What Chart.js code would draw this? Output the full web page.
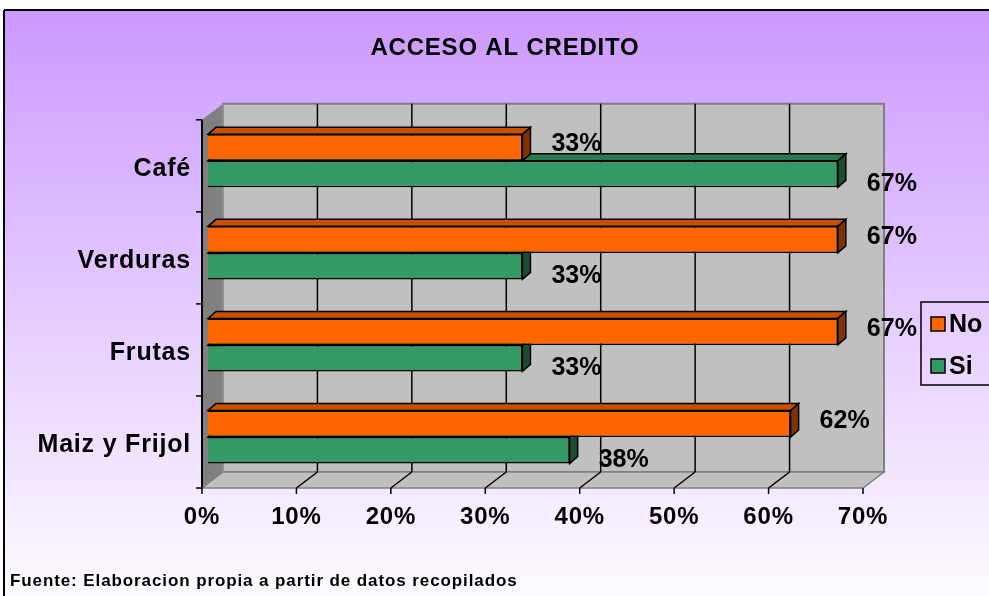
<!DOCTYPE html>
<html>
<head>
<meta charset="utf-8">
<script src="https://cdn.jsdelivr.net/npm/chart.js@4.4.1/dist/chart.umd.min.js"></script>
<style>
  html, body { margin: 0; padding: 0; background: #fff; }
  canvas { display: block; }
</style>
</head>
<body>
<canvas id="chart-credito" width="989" height="596"></canvas>
<script>
/* ===== Data ===== */
const categories = ['Café', 'Verduras', 'Frutas', 'Maiz y Frijol'];
const seriesNames = ['No', 'Si'];
const noValues = [33.3, 66.7, 66.7, 61.7];
const siValues = [66.7, 33.3, 33.3, 38.3];
const xTicks = [0, 10, 20, 30, 40, 50, 60, 70];
const chartTitle = 'ACCESO AL CREDITO';
const sourceNote = 'Fuente: Elaboracion propia a partir de datos recopilados';

/* ===== Styles ===== */
const FONT = '"Liberation Sans", Arial, sans-serif';
const SERIES_STYLE = [
  { front: '#ff6600', top: '#c85000', side: '#803300' },
  { front: '#339966', top: '#277a50', side: '#1b4d33' },
];
const WALL_DEPTH = { x: 21, y: -16 };   // front plane -> back wall
const BAR_SHIFT = { x: 6, y: -5 };      // front plane -> bar plane (chart area)
const BAR_DEPTH = { x: 8, y: -7 };

function poly(ctx, pts, fill, stroke, lw) {
  ctx.beginPath();
  pts.forEach((p, i) => i ? ctx.lineTo(p[0], p[1]) : ctx.moveTo(p[0], p[1]));
  ctx.closePath();
  if (fill) { ctx.fillStyle = fill; ctx.fill(); }
  if (stroke) { ctx.strokeStyle = stroke; ctx.lineWidth = lw || 1; ctx.stroke(); }
}

function line(ctx, x1, y1, x2, y2, color, lw) {
  ctx.beginPath();
  ctx.moveTo(x1, y1);
  ctx.lineTo(x2, y2);
  ctx.strokeStyle = color;
  ctx.lineWidth = lw;
  ctx.stroke();
}

// background gradient + frame
const framePlugin = {
  id: 'frame',
  beforeDraw(chart) {
    const { ctx, width, height } = chart;
    ctx.letterSpacing = '0.8px'; // Excel-like wide text, kept for all labels
    ctx.save();
    ctx.fillStyle = '#fff';
    ctx.fillRect(0, 0, width, height);
    const g = ctx.createLinearGradient(0, 10, 0, 620);
    g.addColorStop(0, '#cc99ff');
    g.addColorStop(1, '#ffffff');
    ctx.fillStyle = g;
    ctx.fillRect(4, 10, width, height);
    line(ctx, 4, 10, 4, height, '#000', 2);
    line(ctx, 4, 10, width, 10, '#000', 2);
    ctx.restore();
  }
};

// 3D walls, floor, gridlines and bar extrusions
const wallsPlugin = {
  id: 'walls',
  beforeDatasetsDraw(chart) {
    const { ctx, chartArea: ca } = chart;
    const xs = chart.scales.x;
    const fx = v => xs.getPixelForValue(v) - BAR_SHIFT.x;
    const fTop = ca.top - BAR_SHIFT.y;
    const fBot = ca.bottom - BAR_SHIFT.y;
    const dx = WALL_DEPTH.x, dy = WALL_DEPTH.y;
    const x0 = fx(xTicks[0]);
    const x1 = fx(xTicks[xTicks.length - 1]);

    ctx.save();
    // back wall
    poly(ctx, [[x0 + dx, fTop + dy], [x1 + dx, fTop + dy], [x1 + dx, fBot + dy], [x0 + dx, fBot + dy]], '#c0c0c0', '#808080', 2);
    // floor
    poly(ctx, [[x0, fBot], [x1, fBot], [x1 + dx, fBot + dy], [x0 + dx, fBot + dy]], '#c0c0c0', '#808080', 1.5);
    // left wall
    poly(ctx, [[x0, fTop], [x0 + dx, fTop + dy], [x0 + dx, fBot + dy], [x0, fBot]], '#808080', null);
    line(ctx, x0 + dx, fTop + dy, x0 + dx, fBot + dy, '#a0a0a0', 1);

    // gridlines on back wall and floor
    xTicks.slice(1, -1).forEach(t => {
      const x = fx(t);
      line(ctx, x + dx, fTop + dy, x + dx, fBot + dy, '#000', 1.5);
      line(ctx, x, fBot, x + dx, fBot + dy, '#000', 1.5);
    });
    // front axis lines and tick marks
    line(ctx, x0, fTop, x0, fBot, '#000', 2);
    xTicks.forEach(t => line(ctx, fx(t), fBot, fx(t), fBot + 6, '#000', 1.5));
    for (let i = 0; i <= categories.length; i++) {
      const y = fTop + (fBot - fTop) * i / categories.length;
      line(ctx, x0 - 6, y, x0, y, '#000', 1.5);
    }

    // bar extrusions: lower series first so the upper one overlaps it
    for (let di = chart.data.datasets.length - 1; di >= 0; di--) {
      const st = SERIES_STYLE[di];
      chart.getDatasetMeta(di).data.forEach(bar => {
        const { x, y, base, height } = bar.getProps(['x', 'y', 'base', 'height'], true);
        const top = y - height / 2, bottom = y + height / 2;
        const bx = BAR_DEPTH.x, by = BAR_DEPTH.y;
        poly(ctx, [[base, top], [x, top], [x + bx, top + by], [base + bx, top + by]], st.top, '#000', 1.5);
        poly(ctx, [[x, top], [x + bx, top + by], [x + bx, bottom + by], [x, bottom]], st.side, '#000', 1.5);
      });
    }
    ctx.restore();
  },
  afterDatasetsDraw(chart) {
    const { ctx } = chart;
    ctx.save();
    ctx.font = `bold 25px ${FONT}`;
    ctx.letterSpacing = '0px';
    ctx.fillStyle = '#000';
    ctx.textAlign = 'center';
    ctx.textBaseline = 'middle';
    chart.data.datasets.forEach((ds, di) => {
      chart.getDatasetMeta(di).data.forEach((bar, i) => {
        ctx.fillText(Math.round(ds.data[i]) + '%', bar.x + 54, bar.y + (di === 0 ? -3 : 10));
      });
    });
    ctx.restore();
  },
  afterDraw(chart) {
    const { ctx } = chart;
    ctx.save();
    // legend box
    ctx.strokeStyle = '#000';
    ctx.lineWidth = 1.5;
    ctx.strokeRect(921, 302, 90, 83);
    ctx.font = `bold 25px ${FONT}`;
    ctx.letterSpacing = '0px';
    ctx.textAlign = 'left';
    ctx.textBaseline = 'middle';
    seriesNames.forEach((name, i) => {
      const y = 324 + i * 42;
      ctx.fillStyle = SERIES_STYLE[i].front;
      ctx.fillRect(931, y - 7, 14, 14);
      ctx.strokeRect(931, y - 7, 14, 14);
      ctx.fillStyle = '#000';
      ctx.fillText(name, 949, y + 1);
    });
    // source note
    ctx.font = `bold 17px ${FONT}`;
    ctx.letterSpacing = '0.9px';
    ctx.fillText(sourceNote, 10, 581);
    ctx.restore();
  }
};

const ctx = document.getElementById('chart-credito').getContext('2d');
new Chart(ctx, {
  type: 'bar',
  data: {
    labels: categories,
    datasets: [
      { label: seriesNames[0], data: noValues, backgroundColor: SERIES_STYLE[0].front, borderColor: '#000', borderWidth: 1.5 },
      { label: seriesNames[1], data: siValues, backgroundColor: SERIES_STYLE[1].front, borderColor: '#000', borderWidth: 1.5 },
    ]
  },
  options: {
    indexAxis: 'y',
    responsive: false,
    animation: false,
    categoryPercentage: 0.576,
    barPercentage: 1,
    layout: { padding: { top: 10, left: 21, right: 0, bottom: 0 } },
    scales: {
      x: {
        min: xTicks[0], max: xTicks[xTicks.length - 1],
        grid: { display: false, drawTicks: false },
        border: { display: false },
        ticks: {
          stepSize: 10, padding: 20, labelOffset: -BAR_SHIFT.x, color: '#000',
          font: { family: FONT, size: 24, weight: 'bold' },
          callback: v => v + '%'
        },
        afterFit: s => { s.height = 113; }
      },
      y: {
        grid: { display: false, drawTicks: false },
        border: { display: false },
        ticks: { padding: 17, labelOffset: 8, color: '#000', font: { family: FONT, size: 25, weight: 'bold' } },
        afterFit: s => { s.width = 187; }
      },
      yRight: {
        type: 'linear', position: 'right',
        grid: { display: false, drawTicks: false },
        border: { display: false },
        ticks: { display: false },
        afterFit: s => { s.width = 120; }
      }
    },
    plugins: {
      legend: { display: false },
      tooltip: { enabled: false },
      title: {
        display: true, text: chartTitle, color: '#000',
        font: { family: FONT, size: 24, weight: 'bold' },
        padding: { top: 24, bottom: 52 }
      }
    }
  },
  plugins: [framePlugin, wallsPlugin]
});
</script>
</body>
</html>
